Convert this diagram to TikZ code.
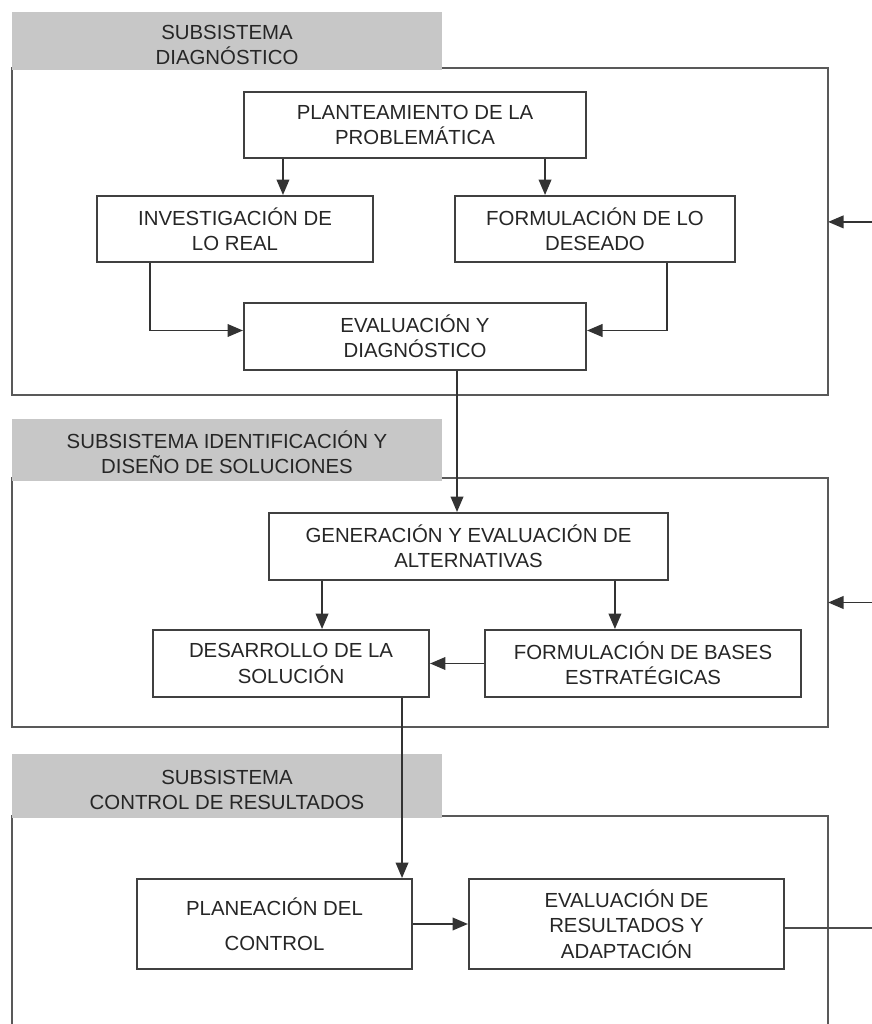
\documentclass[tikz,border=0pt]{standalone}
\usepackage{fontspec}
\setmainfont{Liberation Sans}
\usetikzlibrary{arrows.meta,positioning,calc}

\begin{document}
\begin{tikzpicture}[x=0.025cm, y=-0.025cm,
    box/.style={draw=black!75, line width=1.4pt, fill=white, align=center, inner sep=0pt,
        font=\fontsize{14.5}{18}\selectfont, text=black!85, minimum height=1.65cm},
    frame/.style={draw=black!65, line width=1.4pt, inner sep=0pt, outer sep=0pt, minimum width=20.4cm},
    header/.style={fill=black!22, inner sep=0pt, outer sep=0pt, minimum width=10.75cm, align=center,
        font=\fontsize{14.5}{18}\selectfont, text=black!85, text height=34pt},
    arr/.style={draw=black!80, line width=1.3pt, -{Triangle[length=11pt,width=9pt]}},
    line/.style={draw=black!70, line width=1.3pt}]
    \useasboundingbox (0,0) rectangle (872,1024);

    % Frames of the three subsystems
    \node[frame, minimum height=8.175cm] (frame1) at (420,231.5) {};
    \node[frame, minimum height=6.225cm] (frame2) at (420,602.5) {};
    \node[frame, minimum height=5.5cm] (frame3) at (420,926) {};

    % Grey headers
    \node[header, minimum height=1.45cm] (head1) at (227,41) {SUBSISTEMA\\DIAGNÓSTICO};
    \node[header, minimum height=1.55cm] (head2) at (227,450) {SUBSISTEMA IDENTIFICACIÓN Y\\DISEÑO DE SOLUCIONES};
    \node[header, minimum height=1.6cm] (head3) at (227,786) {SUBSISTEMA\\CONTROL DE RESULTADOS};

    % Diagnostico
    \node[box, minimum width=8.55cm] (plant) at (415,125) {PLANTEAMIENTO DE LA\\PROBLEMÁTICA};
    \node[box, minimum width=6.9cm] (invest) at (235,229) {INVESTIGACIÓN DE\\LO REAL};
    \node[box, minimum width=7.0cm] (deseado) at (595,229) {FORMULACIÓN DE LO\\DESEADO};
    \node[box, minimum width=8.55cm, minimum height=1.675cm] (evaldiag) at (415,336.5) {EVALUACIÓN Y\\DIAGNÓSTICO};

    % Identificacion y diseno
    \node[box, minimum width=9.975cm, minimum height=1.675cm] (gener) at (468.5,546.5) {GENERACIÓN Y EVALUACIÓN DE\\ALTERNATIVAS};
    \node[box, minimum width=6.9cm, minimum height=1.675cm] (desarr) at (291,663.5) {DESARROLLO DE LA\\SOLUCIÓN};
    \node[box, minimum width=7.9cm, minimum height=1.675cm] (bases) at (643,663.5) {FORMULACIÓN DE BASES\\ESTRATÉGICAS};

    % Control de resultados
    \node[box, minimum width=6.875cm, minimum height=2.25cm] (planea) at (274.5,924) {PLANEACIÓN DEL\\[7pt]CONTROL};
    \node[box, minimum width=7.875cm, minimum height=2.25cm] (evalres) at (626.5,924) {EVALUACIÓN DE\\RESULTADOS Y\\ADAPTACIÓN};

    % Arrows inside the first subsystem
    \draw[arr] ([xshift=-3.3cm]plant.south) coordinate (a1) -- (invest.north -| a1);
    \draw[arr] ([xshift=3.25cm]plant.south) coordinate (a2) -- (deseado.north -| a2);
    \draw[arr] ([xshift=-2.125cm]invest.south) |- ([yshift=0.15cm]evaldiag.west);
    \draw[arr] ([xshift=1.8cm]deseado.south) |- ([yshift=0.15cm]evaldiag.east);

    % Between subsystems
    \draw[arr] ([xshift=1.05cm]evaldiag.south) coordinate (a3) -- (gener.north -| a3);
    \draw[arr] ([xshift=-3.66cm]gener.south) coordinate (a4) -- (desarr.north -| a4);
    \draw[arr] ([xshift=3.66cm]gener.south) coordinate (a5) -- (bases.north -| a5);
    \draw[arr] (bases.west) -- (desarr.east);
    \draw[arr] ([xshift=2.775cm]desarr.south) coordinate (a6) -- (planea.north -| a6);
    \draw[arr] (planea.east) -- (evalres.west);

    % Feedback (its vertical run lies just past the right edge)
    \coordinate (fb) at (885,0);
    \coordinate (fbtop) at ([yshift=0.24cm]frame1.east);
    \draw[line] ([yshift=-0.1cm]evalres.east) -| (fb |- fbtop);
    \draw[arr] (fb |- fbtop) -- (fbtop);
    \draw[arr] (fb |- frame2.east) -- (frame2.east);
\end{tikzpicture}
\end{document}
